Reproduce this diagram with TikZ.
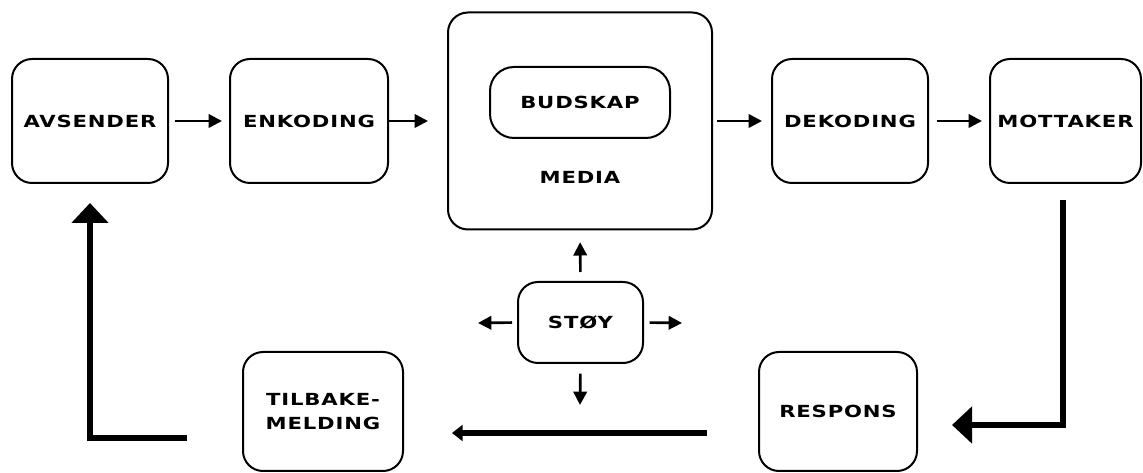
\documentclass[tikz,border=0pt]{standalone}
\usepackage{fontspec}
\usepackage{tikz}
\usetikzlibrary{arrows.meta}
\newfontfamily\boxfont{DejaVu Sans}[FakeStretch=1.27,LetterSpace=5]

\begin{document}
\begin{tikzpicture}[x=0.75pt,y=0.75pt,yscale=-1,xscale=1,
  box/.style={draw,line width=1.5pt,rounded corners=15pt,outer sep=0pt,inner sep=0pt,
    align=center,font=\boxfont\bfseries\fontsize{12.5}{17.5}\selectfont},
  lbl/.style={inner sep=0pt,font=\boxfont\bfseries\fontsize{12.5}{17.5}\selectfont},
  flow/.style={line width=2pt,-{Triangle[length=10pt,width=10pt]}},
  fat/.style={line width=4.5pt,-{Triangle[length=15pt,width=27pt]}},
  fatsmall/.style={line width=5pt,-{Triangle[length=8pt,width=12pt]}}]
\useasboundingbox (0,0) rectangle (1143,473);

%Rounded Rect top row
\node [box,minimum width=117pt,minimum height=93pt] (avs) at (90,121) {AVSENDER};
\node [box,minimum width=118.5pt,minimum height=93pt] (enk) at (309,121) {ENKODING};
\node [box,minimum width=198pt,minimum height=162.75pt] (media) at (580,121) {};
\node [box,minimum width=135pt,minimum height=53.25pt,rounded corners=18pt] (bud) at (580,102.5) {BUDSKAP};
\node [lbl] (medialbl) at (580,177) {MEDIA};
\node [box,minimum width=117pt,minimum height=93pt] (dek) at (850,121) {DEKODING};
\node [box,minimum width=113.25pt,minimum height=93pt] (mot) at (1065.5,121) {MOTTAKER};

%Rounded Rect middle and bottom
\node [box,minimum width=93.75pt,minimum height=60.75pt] (stoy) at (580.5,322.5) {STØY};
\node [box,minimum width=120pt,minimum height=89.25pt] (tilb) at (323,411.5) {TILBAKE-\\MELDING};
\node [box,minimum width=118.5pt,minimum height=89.25pt] (resp) at (838,411.5) {RESPONS};

%Straight Lines top row
\draw [flow,shorten <=5pt,shorten >=6pt] (avs.east) -- (enk.west);
\draw [flow,shorten >=15pt] (enk.east) -- (media.west);
\draw [flow,shorten <=4pt,shorten >=7.5pt] (media.east) -- (dek.west);
\draw [flow,shorten <=6.5pt,shorten >=6pt] (dek.east) -- (mot.west);

%Straight Lines noise
\coordinate (noiseL) at (478,323);
\coordinate (noiseR) at (682,323);
\coordinate (noiseD) at (580,405);
\draw [flow,shorten <=7.5pt,shorten >=9.5pt] (stoy.north) -- (media.south);
\draw [flow,shorten <=4.5pt] (stoy.west) -- (noiseL);
\draw [flow,shorten <=5pt] (stoy.east) -- (noiseR);
\draw [flow,shorten <=8pt] (stoy.south) -- (noiseD);

%Feedback loop
\coordinate (retA) at (1063,200);
\coordinate (retB) at (952,425);
\coordinate (backA) at (707,433);
\coordinate (backB) at (452,433);
\coordinate (fbA) at (187,438);
\coordinate (fbB) at (90,203);
\draw [fat] (retA) |- (retB);
\draw [fatsmall] (backA) -- (backB);
\draw [fat] (fbA) -| (fbB);

\end{tikzpicture}
\end{document}
